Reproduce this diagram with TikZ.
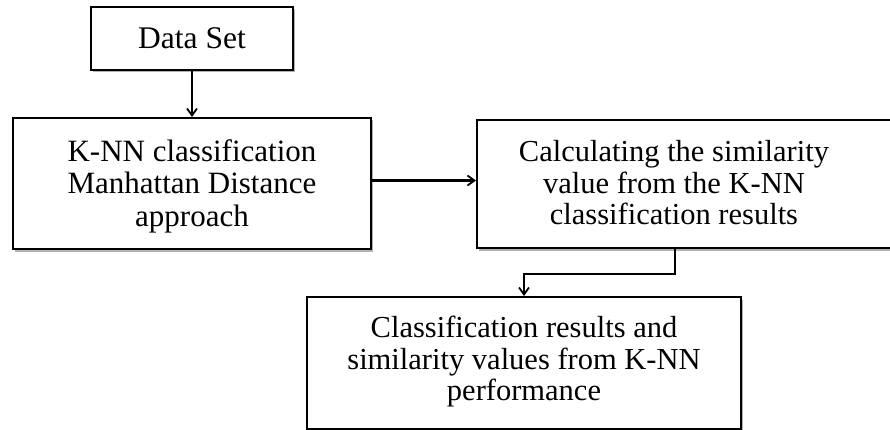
\documentclass[tikz,border=0pt]{standalone}
\usepackage{fontspec}
\setmainfont{Liberation Serif}
\usetikzlibrary{arrows.meta,shadows}
\tikzset{
  box/.style={draw=black, line width=2pt, fill=white, rectangle, inner sep=0pt,
    drop shadow={shadow xshift=1.5pt, shadow yshift=-2.5pt, fill=black, opacity=0.3}},
  txt/.style={align=center, inner sep=0pt, font=\fontsize{30.5}{31.5}\selectfont},
  conn/.style={line width=2.1pt, -{Straight Barb[length=7pt,width=10pt,line width=1.8pt]}}
}
\begin{document}
\begin{tikzpicture}[x=1pt,y=-1pt]
\useasboundingbox (0,0) rectangle (890,430);
\clip (0,0) rectangle (890,430);
\node[box, minimum width=202pt, minimum height=63pt] (data) at (192,38.5) {};
\node[txt, font=\fontsize{31.5}{32}\selectfont] (datat) at (192,38) {Data Set};
\node[box, minimum width=358pt, minimum height=131pt] (knn) at (192,183.5) {};
\node[txt, font=\fontsize{31}{32.5}\selectfont] (knnt) at (192,186) {K-NN classification\\Manhattan Distance\\approach};
\node[box, minimum width=420pt, minimum height=128pt] (calc) at (687,184) {};
\node[txt] (calct) at (674,183) {Calculating the similarity\\value from the K-NN\\classification results};
\node[box, minimum width=434pt, minimum height=132pt] (res) at (524,363) {};
\node[txt] (rest) at (524,362) {Classification results and\\similarity values from K-NN\\performance};
\draw[conn] (data.south) -- (knn.north);
\draw[conn] ([yshift=3pt]knn.east) -- ([yshift=3pt]knn.east -| calc.west);
\draw[conn] ([xshift=-12pt]calc.south) -- ++(0,25) -| (res.north);
\end{tikzpicture}
\end{document}
